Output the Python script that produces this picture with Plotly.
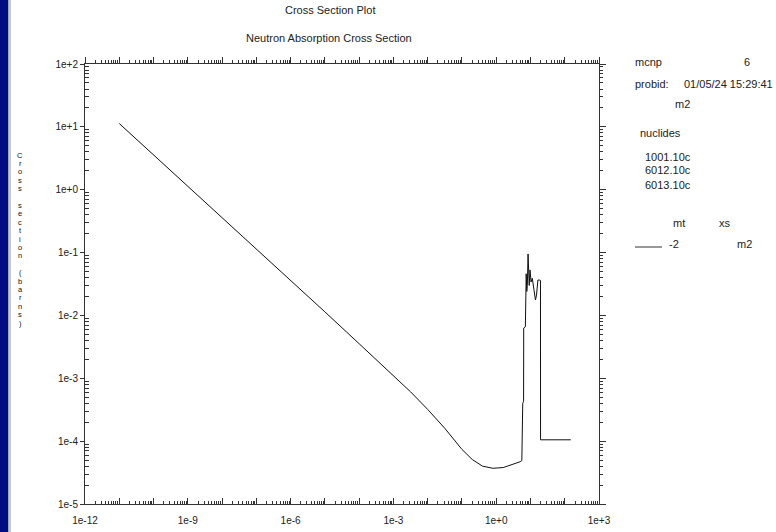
import plotly.graph_objects as go

# ---------------- data (energy in MeV, cross section in barns) ----------------
energy = [1e-11, 1e-10, 1e-9, 1e-8, 1e-7, 1e-6, 1e-5, 1e-4, 1e-3, 3.16e-3,
          1e-2, 3.16e-2, 1e-1, 0.2, 0.4, 0.8, 1.6, 3.2, 5.0, 5.6, 5.65, 5.9,
          5.95, 6.3, 6.35, 7.1, 7.2, 7.5, 7.8, 8.1, 8.5, 8.8, 9.2, 9.7, 10.4,
          11.3, 12.1, 13.0, 14.0, 15.0, 16.5, 18.0, 19.6, 19.7, 150.0]
xsec = [11.3, 3.6, 1.14, 0.36, 0.114, 0.036, 0.0114, 3.55e-3, 1.1e-3, 6.1e-4,
        3.2e-4, 1.6e-4, 7.4e-5, 5.1e-5, 4.0e-5, 3.7e-5, 3.8e-5, 4.3e-5, 4.7e-5,
        4.9e-5, 7.3e-5, 7.5e-5, 4.0e-4, 4.3e-4, 6.3e-3, 6.6e-3, 0.040, 0.046,
        0.024, 0.030, 0.095, 0.040, 0.030, 0.053, 0.034, 0.039, 0.0286, 0.0254,
        0.0176, 0.0211, 0.0366, 0.0366, 0.036, 1.05e-4, 1.05e-4]

x_tick_vals = [10.0 ** k for k in range(-12, 4)]
x_tick_text = ["1e-12", "", "", "1e-9", "", "", "1e-6", "", "", "1e-3", "", "",
               "1e+0", "", "", "1e+3"]
y_tick_vals = [10.0 ** k for k in range(-5, 3)]
y_tick_text = ["1e-5", "1e-4", "1e-3", "1e-2", "1e-1", "1e+0", "1e+1", "1e+2"]
x_minor = [m * 10.0 ** k for k in range(-12, 3) for m in range(2, 10)]
y_minor = [m * 10.0 ** k for k in range(-5, 2) for m in range(2, 10)]

title_main = "Cross Section Plot"
title_sub = "Neutron Absorption Cross Section"
y_title = "Cross section (barns)"

# ---------------- figure ----------------
W, H = 776, 532
L, R, T, B = 85, 599, 64, 504
FONT = "Liberation Sans"
INK = "#222222"
AX = "#333333"


def px(x):
    return (x - L) / (R - L)


def py(y):
    return (B - y) / (B - T)


fig = go.Figure()
fig.add_trace(go.Scatter(x=energy, y=xsec, mode="lines",
                         line=dict(color="#111111", width=1), showlegend=False))
fig.add_trace(go.Scatter(x=[], y=[], xaxis="x2", yaxis="y2", showlegend=False))

axis_common = dict(type="log", showgrid=False, zeroline=False, showline=True,
                   automargin=False,
                   linecolor=AX, linewidth=1, tickcolor=AX,
                   tickfont=dict(family=FONT, size=10, color=INK))

fig.update_layout(
    width=W, height=H,
    margin=dict(l=L, r=W - R, t=T, b=H - B, autoexpand=False),
    paper_bgcolor="white", plot_bgcolor="white",
    font=dict(family=FONT, size=11, color=INK),
    showlegend=False,
    xaxis=dict(axis_common, range=[-12, 3], tickmode="array",
               tickvals=x_tick_vals, ticktext=x_tick_text,
               ticks="inside", ticklen=6, ticklabelstandoff=7,
               minor=dict(tickmode="array", tickvals=x_minor, ticks="inside",
                          ticklen=3, tickcolor=AX, showgrid=False)),
    yaxis=dict(axis_common, range=[-5, 2], tickmode="array",
               tickvals=y_tick_vals, ticktext=y_tick_text,
               ticks="outside", ticklen=4,
               minor=dict(tickmode="array", tickvals=y_minor, ticks="inside",
                          ticklen=4, tickcolor=AX, showgrid=False)),
    xaxis2=dict(axis_common, range=[-12, 3], overlaying="x", side="top",
                anchor="y", tickmode="array", tickvals=x_tick_vals,
                showticklabels=False, ticks="outside", ticklen=6,
                minor=dict(tickmode="array", tickvals=x_minor, ticks="outside",
                           ticklen=3, tickcolor=AX, showgrid=False)),
    yaxis2=dict(axis_common, range=[-5, 2], overlaying="y", side="right",
                anchor="x", tickmode="array", tickvals=y_tick_vals,
                showticklabels=False, ticks="outside", ticklen=6,
                minor=dict(tickmode="array", tickvals=y_minor, ticks="outside",
                           ticklen=3, tickcolor=AX, showgrid=False)),
)

# left blue stripe
fig.add_shape(type="rect", xref="paper", yref="paper",
              x0=px(0), x1=px(8.5), y0=py(H), y1=py(0),
              fillcolor="#000c80", line=dict(width=0), layer="below")
fig.add_shape(type="rect", xref="paper", yref="paper",
              x0=px(8.5), x1=px(11), y0=py(H), y1=py(0),
              fillcolor="#c8c8c8", line=dict(width=0), layer="below")


def text(t, x, y, anchor="left", size=11, color=INK):
    fig.add_annotation(text=t, xref="paper", yref="paper", x=px(x), y=py(y),
                       xanchor=anchor, yanchor="middle", showarrow=False,
                       borderpad=0,
                       font=dict(family=FONT, size=size, color=color))


text(title_main, 330, 10, "center")
text(title_sub, 329, 38, "center")

for i, ch in enumerate(y_title):
    if ch != " ":
        text(ch, 20, 155 + i * 8.4, "center", size=7.5, color="#111111")

# right-hand information block
text("mcnp", 634, 62)
text("6", 747, 62, "center")
text("probid:", 634, 84)
text("01/05/24 15:29:41", 683, 84)
text("m2", 682, 104, "center")
text("nuclides", 639, 133)
text("1001.10c", 644, 157)
text("6012.10c", 644, 170)
text("6013.10c", 644, 185)
text("mt", 679, 223, "center")
text("xs", 725, 223, "center")
text("-2", 674, 244, "center")
text("m2", 744, 244, "center")
fig.add_shape(type="line", xref="paper", yref="paper",
              x0=px(635), x1=px(662), y0=py(247), y1=py(247),
              line=dict(color=AX, width=1))

fig.write_html("out.html",
               config={"displayModeBar": False},
               post_script="document.body.style.margin='0';"
                           "document.body.style.overflow='hidden';")
